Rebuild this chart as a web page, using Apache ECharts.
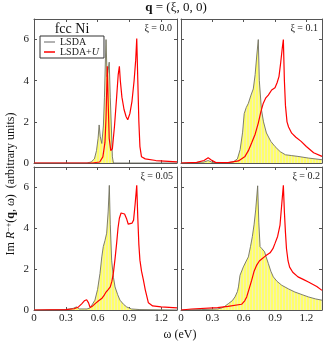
<!DOCTYPE html>
<html>
<head>
<meta charset="utf-8">
<script src="https://cdn.jsdelivr.net/npm/echarts@6/dist/echarts.min.js"></script>
<style>
    html, body { margin: 0; padding: 0; background: #fff; }
    #chart { width: 326px; height: 342px; }
</style>
</head>
<body>
<div id="chart"></div>
<script>
const SERIF = '"Liberation Serif", "DejaVu Serif", serif';

// panel order: top-left, top-right, bottom-left, bottom-right
const panelLabels = ['ξ = 0.0', 'ξ = 0.1', 'ξ = 0.05', 'ξ = 0.2'];
const seriesNames = ['LSDA', 'LSDA+U'];

// curves as [ω (eV), Im R] pairs
const lsda00 = [[0, 0], [0.50, 0], [0.54, 0.05], [0.57, 0.2], [0.59, 0.6], [0.605, 1.2], [0.615, 1.85], [0.625, 1.3],
    [0.64, 0.95], [0.655, 1.8], [0.665, 3.2], [0.675, 5.2], [0.68, 6.0], [0.69, 4.2], [0.70, 4.5], [0.71, 4.9],
    [0.72, 3.2], [0.73, 1.8], [0.74, 0.3], [0.75, 0], [1.35, 0]];
const ldau00 = [[0, 0], [0.55, 0], [0.62, 0.05], [0.65, 0.3], [0.67, 1.0], [0.68, 2.2], [0.692, 4.7], [0.70, 3.0],
    [0.71, 1.2], [0.725, 0.6], [0.74, 0.7], [0.76, 1.8], [0.78, 3.2], [0.795, 4.3], [0.806, 4.7], [0.815, 4.0],
    [0.83, 3.2], [0.85, 2.6], [0.87, 2.25], [0.885, 2.1], [0.905, 2.4], [0.925, 3.0], [0.945, 4.0], [0.96, 5.0],
    [0.97, 6.05], [0.98, 4.0], [0.99, 2.0], [1.0, 0.8], [1.015, 0.3], [1.05, 0.2], [1.15, 0.12], [1.35, 0.05]];

const lsda10 = [[0, 0], [0.15, 0.02], [0.22, 0.05], [0.26, 0.12], [0.3, 0.03], [0.45, 0.02], [0.5, 0.05], [0.54, 0.2],
    [0.566, 0.65], [0.59, 1.5], [0.605, 2.4], [0.625, 2.7], [0.645, 2.9], [0.67, 3.3], [0.692, 3.6], [0.71, 4.3],
    [0.725, 5.2], [0.74, 6.0], [0.75, 4.0], [0.77, 2.6], [0.79, 2.0], [0.818, 1.46], [0.86, 1.05], [0.90, 0.8],
    [0.95, 0.55], [1.0, 0.4], [1.06, 0.36], [1.12, 0.32], [1.22, 0.24], [1.35, 0.16]];
const ldau10 = [[0, 0], [0.15, 0.03], [0.22, 0.12], [0.26, 0.25], [0.29, 0.15], [0.33, 0.03], [0.45, 0.02], [0.55, 0.1],
    [0.613, 0.32], [0.645, 0.6], [0.676, 0.97], [0.71, 1.4], [0.74, 1.94], [0.765, 2.5], [0.788, 2.91], [0.81, 3.15],
    [0.836, 3.3], [0.868, 3.55], [0.9, 3.66], [0.92, 3.9], [0.938, 4.2], [0.955, 4.9], [0.97, 5.6], [0.98, 6.0],
    [0.99, 4.0], [1.0, 2.8], [1.015, 2.0], [1.03, 1.75], [1.06, 1.45], [1.1, 1.25], [1.15, 1.05], [1.2, 0.8],
    [1.27, 0.5], [1.35, 0.32]];

const lsda05 = [[0, 0], [0.3, 0.02], [0.37, 0.08], [0.40, 0.15], [0.43, 0.05], [0.5, 0.05], [0.53, 0.1], [0.575, 0.48],
    [0.60, 1.0], [0.623, 1.79], [0.64, 2.6], [0.654, 3.1], [0.67, 3.4], [0.686, 3.76], [0.70, 4.8], [0.711, 6.1],
    [0.72, 4.2], [0.733, 2.44], [0.75, 1.6], [0.765, 1.13], [0.79, 0.75], [0.812, 0.48], [0.845, 0.28],
    [0.875, 0.15], [0.92, 0.05], [1.0, 0.02], [1.35, 0]];
const ldau05 = [[0, 0], [0.3, 0.02], [0.38, 0.06], [0.42, 0.15], [0.45, 0.3], [0.475, 0.45], [0.497, 0.5], [0.515, 0.35],
    [0.53, 0.12], [0.55, 0.18], [0.575, 0.3], [0.61, 0.45], [0.639, 0.56], [0.66, 0.7], [0.68, 0.88], [0.70, 1.0],
    [0.72, 1.13], [0.735, 1.4], [0.749, 1.79], [0.765, 2.5], [0.78, 3.26], [0.793, 4.0], [0.806, 4.49], [0.822, 4.75],
    [0.838, 4.82], [0.855, 4.7], [0.875, 4.45], [0.89, 4.2], [0.907, 4.16], [0.925, 4.25], [0.94, 4.4], [0.955, 5.2],
    [0.97, 6.1], [0.98, 4.5], [0.99, 3.2], [1.0, 2.44], [1.015, 1.9], [1.033, 1.46], [1.05, 1.0], [1.08, 0.35],
    [1.12, 0.2], [1.2, 0.15], [1.35, 0.1]];

const lsda20 = [[0, 0], [0.2, 0.02], [0.35, 0.05], [0.39, 0.1], [0.42, 0.18], [0.453, 0.31], [0.49, 0.45], [0.517, 0.64],
    [0.54, 0.9], [0.55, 1.13], [0.565, 1.7], [0.597, 2.11], [0.62, 2.35], [0.645, 2.6], [0.665, 3.1], [0.683, 3.59],
    [0.70, 4.2], [0.715, 4.9], [0.734, 6.08], [0.745, 4.3], [0.757, 3.1], [0.775, 3.0], [0.80, 2.85], [0.815, 2.6],
    [0.836, 2.28], [0.86, 1.9], [0.884, 1.62], [0.92, 1.4], [0.965, 1.21], [1.03, 1.03], [1.09, 0.88], [1.16, 0.75],
    [1.22, 0.64], [1.29, 0.54], [1.35, 0.48]];
const ldau20 = [[0, 0], [0.1, 0.05], [0.35, 0.12], [0.45, 0.18], [0.58, 0.28], [0.61, 0.45], [0.629, 0.64], [0.65, 1.0],
    [0.677, 1.46], [0.70, 1.9], [0.725, 2.2], [0.75, 2.4], [0.773, 2.5], [0.81, 2.65], [0.853, 2.8], [0.88, 3.0],
    [0.9, 3.26], [0.925, 3.6], [0.948, 4.16], [0.965, 5.2], [0.98, 6.1], [0.99, 4.8], [1.0, 3.8], [1.01, 3.0],
    [1.025, 2.4], [1.04, 2.1], [1.07, 1.85], [1.12, 1.62], [1.17, 1.5], [1.22, 1.37], [1.3, 1.15], [1.35, 0.96]];

const lsdaCurves = [lsda00, lsda10, lsda05, lsda20];
const ldauCurves = [ldau00, ldau10, ldau05, ldau20];

const grids = [
    { left: 34, top: 19, width: 143, height: 144 },
    { left: 181, top: 19, width: 141, height: 144 },
    { left: 34, top: 167, width: 143, height: 143 },
    { left: 181, top: 167, width: 141, height: 143 }
];

const FRAME = '#555';

function makeHatch() {
    const c = document.createElement('canvas');
    c.width = 3;
    c.height = 2;
    const ctx = c.getContext('2d');
    ctx.fillStyle = '#ffff6a';
    ctx.fillRect(0, 0, 3, 2);
    ctx.fillStyle = '#f2efb8';
    ctx.fillRect(0, 0, 1, 2);
    return c;
}

function xAxisFor(i, mirror) {
    return {
        gridIndex: i,
        type: 'value',
        position: mirror ? 'top' : 'bottom',
        min: 0,
        max: 1.35,
        interval: 0.3,
        axisLine: { show: true, onZero: false, lineStyle: { color: FRAME, width: 1 } },
        axisTick: { show: true, inside: true, length: 3, lineStyle: { color: FRAME } },
        axisLabel: {
            show: !mirror && i >= 2,
            showMaxLabel: false,
            margin: 3,
            fontFamily: SERIF,
            fontSize: 11,
            color: '#222',
            formatter: v => (v === 0 ? '0' : v.toFixed(1))
        },
        splitLine: { show: false }
    };
}

function yAxisFor(i, mirror) {
    return {
        gridIndex: i,
        type: 'value',
        position: mirror ? 'right' : 'left',
        min: 0,
        max: 7,
        interval: 2,
        axisLine: { show: true, onZero: false, lineStyle: { color: FRAME, width: 1 } },
        axisTick: { show: true, inside: true, length: 3, lineStyle: { color: FRAME } },
        axisLabel: {
            show: !mirror && (i === 0 || i === 2),
            showMaxLabel: false,
            margin: 5,
            fontFamily: SERIF,
            fontSize: 11,
            color: '#222'
        },
        splitLine: { show: false }
    };
}

const hatch = makeHatch();
const series = [];
grids.forEach((g, i) => {
    series.push({
        name: seriesNames[0],
        type: 'line',
        xAxisIndex: i,
        yAxisIndex: i,
        data: lsdaCurves[i],
        symbol: 'none',
        smooth: false,
        itemStyle: { color: '#999' },
        lineStyle: { color: '#6f6f60', width: 0.9 },
        areaStyle: { color: { image: hatch, repeat: 'repeat' }, opacity: 1 },
        z: 2
    });
    series.push({
        name: seriesNames[1],
        type: 'line',
        xAxisIndex: i,
        yAxisIndex: i,
        data: ldauCurves[i],
        symbol: 'none',
        smooth: false,
        itemStyle: { color: '#ff0000' },
        lineStyle: { color: '#ff0000', width: 1.2 },
        z: 3
    });
});

const labelPos = [[172, 28], [318, 28], [173, 176], [320, 176]];
const graphic = panelLabels.map((t, i) => ({
    type: 'text',
    x: labelPos[i][0],
    y: labelPos[i][1],
    style: { text: t, align: 'right', verticalAlign: 'middle', fontFamily: SERIF, fontSize: 10, fill: '#222' }
}));

graphic.push({
    type: 'text', x: 176, y: 8,
    style: {
        text: '{b|q} = (ξ, 0, 0)', align: 'center', verticalAlign: 'middle',
        fontFamily: SERIF, fontSize: 13, fill: '#111',
        rich: { b: { fontFamily: SERIF, fontSize: 13, fontWeight: 'bold', fill: '#111' } }
    }
});
graphic.push({
    type: 'text', x: 72, y: 29,
    style: { text: 'fcc Ni', align: 'center', verticalAlign: 'middle', fontFamily: SERIF, fontSize: 14, fill: '#111' }
});
graphic.push({
    type: 'text', x: 180, y: 335,
    style: { text: 'ω (eV)', align: 'center', verticalAlign: 'middle', fontFamily: SERIF, fontSize: 12, fill: '#111' }
});
graphic.push({
    type: 'text', x: 11, y: 184, rotation: Math.PI / 2,
    style: {
        text: 'Im {i|R}{s|−+}({b|q}, ω)  (arbitrary units)',
        align: 'center', verticalAlign: 'middle',
        fontFamily: SERIF, fontSize: 12, fill: '#111',
        rich: {
            i: { fontFamily: SERIF, fontSize: 12, fontStyle: 'italic', fill: '#111' },
            s: { fontFamily: SERIF, fontSize: 8, verticalAlign: 'top', fill: '#111' },
            b: { fontFamily: SERIF, fontSize: 12, fontWeight: 'bold', fill: '#111' }
        }
    }
});

const chart = echarts.init(document.getElementById('chart'), null, { renderer: 'canvas' });
chart.setOption({
    animation: false,
    backgroundColor: '#fff',
    grid: grids,
    xAxis: grids.map((g, i) => xAxisFor(i, false)).concat(grids.map((g, i) => xAxisFor(i, true))),
    yAxis: grids.map((g, i) => yAxisFor(i, false)).concat(grids.map((g, i) => yAxisFor(i, true))),
    legend: {
        orient: 'vertical',
        left: 40,
        top: 36,
        selectedMode: false,
        icon: 'rect',
        itemWidth: 11,
        itemHeight: 1.5,
        itemGap: 0,
        padding: [1, 5, 1, 4],
        borderColor: '#333',
        borderWidth: 1,
        data: [
            { name: 'LSDA', itemStyle: { color: '#999' } },
            { name: 'LSDA+U', itemStyle: { color: '#ff0000' } }
        ],
        formatter: name => (name === 'LSDA+U' ? 'LSDA+{i|U}' : name),
        textStyle: {
            fontFamily: SERIF,
            fontSize: 10,
            lineHeight: 10,
            color: '#222',
            rich: { i: { fontFamily: SERIF, fontSize: 10, lineHeight: 10, fontStyle: 'italic', color: '#222' } }
        }
    },
    graphic: graphic,
    series: series
});
</script>
</body>
</html>
